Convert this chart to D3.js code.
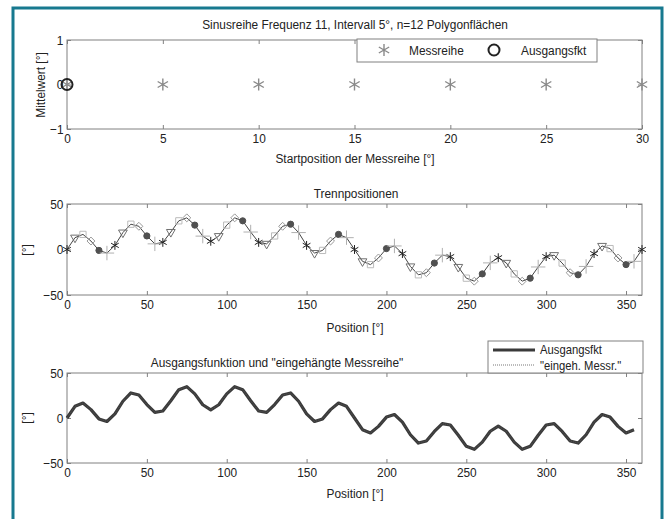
<!DOCTYPE html>
<html><head><meta charset="utf-8">
<script src="https://cdn.jsdelivr.net/npm/d3@7"></script>
<style>
body{margin:0;background:#fff}
text{font-family:"Liberation Sans",Arial,sans-serif;fill:#222}
</style>
</head><body><svg id="c" width="669" height="519"></svg>
<script>
// ---------- data ----------
const startPositions = [0, 5, 10, 15, 20, 25, 30];
const meanValues = [0, 0, 0, 0, 0, 0, 0];
const ausgangsStart = [0];
const ausgangsMean = [0];
const topXTicks = [0, 5, 10, 15, 20, 25, 30];
const topYTicks = [-1, 0, 1];

const positions = [0,5,10,15,20,25,30,35,40,45,50,55,60,65,70,75,80,85,90,95,100,105,110,115,120,125,130,135,140,145,150,155,160,165,170,175,180,
  185,190,195,200,205,210,215,220,225,230,235,240,245,250,255,260,265,270,275,280,285,290,295,300,305,310,315,320,325,330,335,340,345,350,355,360];
const funcValues = [0,13.0,16.6,9.3,-1.0,-3.9,4.5,18.6,27.8,25.5,14.9,6.2,7.8,19.2,31.5,34.8,26.8,14.7,9.0,14.7,26.8,34.8,31.5,19.2,7.8,6.2,14.9,25.5,27.8,18.6,4.5,-3.9,-1.0,9.3,16.6,13.0,0,
  -13.0,-16.6,-9.3,1.0,3.9,-4.5,-18.6,-27.8,-25.5,-14.9,-6.2,-7.8,-19.2,-31.5,-34.8,-26.8,-14.7,-9.0,-14.7,-26.8,-34.8,-31.5,-19.2,-7.8,-6.2,-14.9,-25.5,-27.8,-18.6,-4.5,3.9,1.0,-9.3,-16.6,-13.0,0];
// marker series of Trennpositionen: offset within each 30° block
const seriesOffsets = [0, 5, 10, 15, 20, 25];
const posXTicks = [0, 50, 100, 150, 200, 250, 300, 350];
const posYTicks = [-50, 0, 50];
// bottom panel: "eingehängte Messreihe" (0..355)
const messrPositions = positions.slice(0, 72);
const messrValues = funcValues.slice(0, 72);

// ---------- drawing ----------
const svg = d3.select("#c");
const L = 67, R = 642;
const FS = 13.5, SX = 0.88;

// frame
svg.append("path").attr("d", "M13,530 L13,8 L662,8 L662,530")
  .attr("fill", "none").attr("stroke", "#17798f").attr("stroke-width", 3);

function panel(xDom, yDom, top, bottom, xTicks, yTicks) {
  const x = d3.scaleLinear().domain(xDom).range([L, R]);
  const y = d3.scaleLinear().domain(yDom).range([bottom, top]);
  const g = svg.append("g");
  const style = sel => {
    sel.select(".domain").remove();
    sel.selectAll("line").attr("stroke", "#808080");
    sel.selectAll("text").attr("font-size", FS).attr("fill", "#222")
      .attr("transform", `scale(${SX},1)`);
  };
  g.append("g").attr("transform", `translate(0,${bottom})`)
    .call(d3.axisBottom(x).tickValues(xTicks).tickSize(-4).tickPadding(4).tickFormat(d3.format("d"))).call(style);
  g.append("g").attr("transform", `translate(0,${top})`)
    .call(d3.axisTop(x).tickValues(xTicks).tickSize(-4).tickFormat("")).call(style);
  g.append("g").attr("transform", `translate(${L},0)`)
    .call(d3.axisLeft(y).tickValues(yTicks).tickSize(-4).tickPadding(4).tickFormat(d3.format("d"))).call(style);
  g.append("g").attr("transform", `translate(${R},0)`)
    .call(d3.axisRight(y).tickValues(yTicks).tickSize(-4).tickFormat("")).call(style);
  g.append("rect").attr("x", L).attr("y", top).attr("width", R - L).attr("height", bottom - top)
    .attr("fill", "none").attr("stroke", "#808080").attr("stroke-width", 1);
  return {x, y, g};
}

function txt(x, y, s, opts = {}) {
  const rot = opts.rotate ? " rotate(-90)" : "";
  return svg.append("text").attr("transform", `translate(${x},${y})${rot} scale(${SX},1)`)
    .text(s).attr("font-size", opts.size || FS).attr("text-anchor", opts.anchor || "middle");
}

// ----- top panel -----
const p1 = panel([0, 30], [-1, 1], 40, 129, topXTicks, topYTicks);
const ast = d3.symbol().type(d3.symbolAsterisk).size(100);
p1.g.selectAll(".ms").data(startPositions).join("path")
  .attr("d", ast).attr("transform", (d, i) => `translate(${p1.x(d)},${p1.y(meanValues[i])})`)
  .attr("fill", "none").attr("stroke", "#8a8a8a").attr("stroke-width", 1.4);
p1.g.selectAll(".af").data(ausgangsStart).join("circle")
  .attr("cx", d => p1.x(d)).attr("cy", (d, i) => p1.y(ausgangsMean[i])).attr("r", 5.5)
  .attr("fill", "none").attr("stroke", "#222").attr("stroke-width", 2);
txt(355, 29, "Sinusreihe Frequenz 11, Intervall 5°, n=12 Polygonflächen");
txt(355, 163, "Startposition der Messreihe [°]");
txt(45, 85, "Mittelwert [°]", {rotate: true});
// legend
const lg1 = svg.append("g");
lg1.append("rect").attr("x", 357).attr("y", 39).attr("width", 240).attr("height", 23)
  .attr("fill", "#fff").attr("stroke", "#808080");
lg1.append("path").attr("d", ast).attr("transform", "translate(384,50)")
  .attr("fill", "none").attr("stroke", "#8a8a8a").attr("stroke-width", 1.4);
txt(409, 55, "Messreihe", {anchor: "start"});
lg1.append("circle").attr("cx", 494).attr("cy", 50).attr("r", 5.5)
  .attr("fill", "none").attr("stroke", "#222").attr("stroke-width", 2);
txt(521, 55, "Ausgangsfkt", {anchor: "start"});

// ----- middle panel -----
const p2 = panel([0, 360], [-50, 50], 204, 295, posXTicks, posYTicks);
const line2 = d3.line().x(d => p2.x(d[0])).y(d => p2.y(d[1]));
p2.g.append("path").datum(positions.map((p, i) => [p, funcValues[i]]))
  .attr("d", line2).attr("fill", "none").attr("stroke", "#444").attr("stroke-width", 1);
const markerStyles = {
  0: {type: d3.symbolAsterisk, size: 55, fill: "none", stroke: "#222", rot: 0},
  5: {type: d3.symbolTriangle2, size: 55, fill: "none", stroke: "#707070", rot: 180},
  10: {type: d3.symbolSquare2, size: 50, fill: "none", stroke: "#bbb", rot: 0},
  15: {type: d3.symbolDiamond2, size: 40, fill: "none", stroke: "#999", rot: 0},
  20: {type: d3.symbolCircle, size: 30, fill: "#505050", stroke: "#505050", rot: 0},
  25: {type: d3.symbolPlus, size: 70, fill: "none", stroke: "#b0b0b0", rot: 0}
};
seriesOffsets.forEach(off => {
  const st = markerStyles[off];
  const idx = positions.map((p, i) => i).filter(i => positions[i] % 30 === off);
  p2.g.selectAll(null).data(idx).join("path")
    .attr("d", d3.symbol().type(st.type).size(st.size))
    .attr("transform", i => `translate(${p2.x(positions[i])},${p2.y(funcValues[i])}) rotate(${st.rot})`)
    .attr("fill", st.fill).attr("stroke", st.stroke).attr("stroke-width", 1);
});
txt(356, 198, "Trennpositionen");
txt(355, 332, "Position [°]");
txt(31, 250, "[°]", {rotate: true});

// ----- bottom panel -----
const p3 = panel([0, 360], [-50, 50], 373, 463, posXTicks, posYTicks);
const line3 = d3.line().x(d => p3.x(d[0])).y(d => p3.y(d[1]));
p3.g.append("path").datum(messrPositions.map((p, i) => [p, funcValues[i]]))
  .attr("d", line3).attr("fill", "none").attr("stroke", "#3a3a3a").attr("stroke-width", 3.2).attr("stroke-linejoin", "round");
p3.g.append("path").datum(messrPositions.map((p, i) => [p, messrValues[i]]))
  .attr("d", line3).attr("fill", "none").attr("stroke", "#555").attr("stroke-width", 1).attr("stroke-dasharray", "1,1");
txt(277, 367, "Ausgangsfunktion und \"eingehängte Messreihe\"");
txt(355, 498, "Position [°]");
txt(31, 418, "[°]", {rotate: true});
// legend
const lg3 = svg.append("g");
lg3.append("rect").attr("x", 488).attr("y", 341).attr("width", 155).attr("height", 32)
  .attr("fill", "#fff").attr("stroke", "#808080");
lg3.append("line").attr("x1", 493).attr("x2", 535).attr("y1", 350).attr("y2", 350)
  .attr("stroke", "#3a3a3a").attr("stroke-width", 3);
txt(540, 354, "Ausgangsfkt", {anchor: "start", size: 12.8});
lg3.append("line").attr("x1", 493).attr("x2", 535).attr("y1", 365).attr("y2", 365)
  .attr("stroke", "#bbb").attr("stroke-width", 2).attr("stroke-dasharray", "1,1");
txt(540, 369.5, "\"eingeh. Messr.\"", {anchor: "start", size: 12.8});
</script></body></html>
